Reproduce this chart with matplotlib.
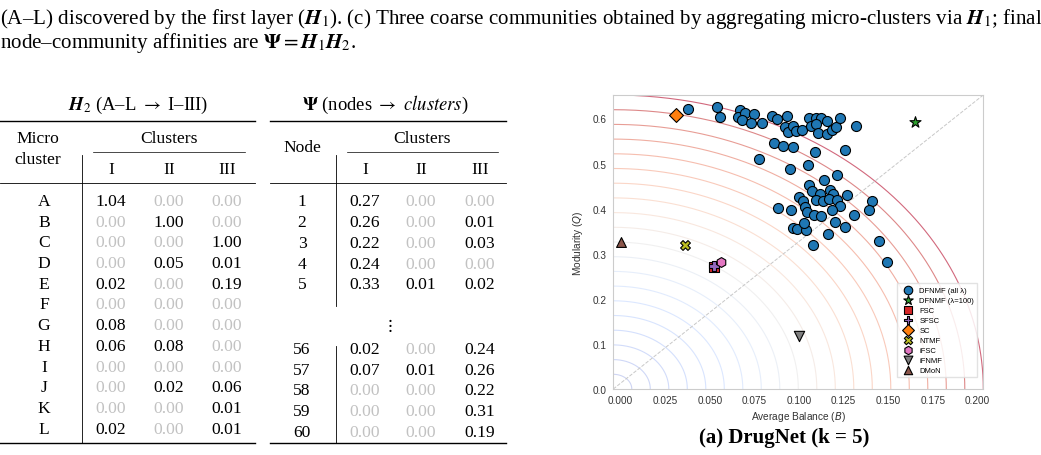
import numpy as np
import matplotlib
matplotlib.use("Agg")
import matplotlib.pyplot as plt
from matplotlib.lines import Line2D

plt.rcParams['mathtext.fontset'] = 'stix'
plt.rcParams['font.family'] = 'Liberation Serif'

### ---Table data
micro = list("ABCDEFGHIJKL")
h2_I   = [1.04, 0.00, 0.00, 0.00, 0.02, 0.00, 0.08, 0.06, 0.00, 0.00, 0.00, 0.02]
h2_II  = [0.00, 1.00, 0.00, 0.05, 0.00, 0.00, 0.00, 0.08, 0.00, 0.02, 0.00, 0.00]
h2_III = [0.00, 0.00, 1.00, 0.01, 0.19, 0.00, 0.00, 0.00, 0.00, 0.06, 0.01, 0.01]

nodes_top   = [1, 2, 3, 4, 5]
psi_top_I   = [0.27, 0.26, 0.22, 0.24, 0.33]
psi_top_II  = [0.00, 0.00, 0.00, 0.00, 0.01]
psi_top_III = [0.00, 0.01, 0.03, 0.00, 0.02]

nodes_bot   = [56, 57, 58, 59, 60]
psi_bot_I   = [0.02, 0.07, 0.00, 0.00, 0.00]
psi_bot_II  = [0.00, 0.01, 0.00, 0.00, 0.00]
psi_bot_III = [0.24, 0.26, 0.22, 0.31, 0.19]

### ---Scatter data (Average Balance B, Modularity Q)
dfnmf_B = [0.0379, 0.0538, 0.0557, 0.0669, 0.0656, 0.0697, 0.0682, 0.0747, 0.0732, 0.0790,
           0.0777, 0.0847, 0.0878, 0.0930, 0.0921, 0.0940, 0.0968, 0.0983, 0.1015, 0.1054,
           0.1095, 0.1121, 0.1155, 0.1065, 0.1095, 0.1108, 0.1155, 0.1183, 0.1207, 0.1229,
           0.1319, 0.0859, 0.0912, 0.0964, 0.1089, 0.1257, 0.0949, 0.1048, 0.1211, 0.1141,
           0.1054, 0.1071, 0.1117, 0.1173, 0.1192, 0.1001, 0.1024, 0.1098, 0.1136, 0.1169,
           0.1211, 0.1229, 0.1270, 0.1184, 0.1407, 0.1390, 0.0882, 0.0953, 0.1033, 0.1046,
           0.1083, 0.1121, 0.1201, 0.1308, 0.1259, 0.0968, 0.0990, 0.1037, 0.1027, 0.1164,
           0.1080, 0.1449, 0.1496]
dfnmf_Q = [0.620, 0.625, 0.604, 0.619, 0.604, 0.611, 0.597, 0.610, 0.590, 0.591,
           0.511, 0.605, 0.599, 0.605, 0.580, 0.569, 0.583, 0.573, 0.575, 0.602,
           0.602, 0.600, 0.594, 0.583, 0.588, 0.567, 0.565, 0.574, 0.582, 0.602,
           0.584, 0.546, 0.540, 0.536, 0.525, 0.530, 0.487, 0.497, 0.475, 0.464,
           0.452, 0.438, 0.432, 0.441, 0.432, 0.425, 0.416, 0.419, 0.416, 0.421,
           0.419, 0.406, 0.431, 0.397, 0.418, 0.397, 0.401, 0.398, 0.403, 0.392,
           0.386, 0.383, 0.371, 0.386, 0.360, 0.356, 0.355, 0.353, 0.368, 0.344,
           0.320, 0.328, 0.281]

others = ['DFNMF (λ=100)', 'FSC', 'SFSC', 'SC', 'NTMF', 'iFSC', 'iFNMF', 'DMoN']
others_B = [0.1649, 0.0525, 0.0523, 0.0310, 0.0361, 0.0561, 0.1001, 0.0000]
others_Q = [0.593, 0.270, 0.272, 0.608, 0.320, 0.281, 0.118, 0.326]
others_marker = ['*', 's', 'P', 'D', 'X', 'h', 'v', '^']
others_color = ['#2ca02c', '#d62728', '#9467bd', '#ff7f0e', '#bcbd22', '#e377c2', '#7f7f7f', '#8c564b']
others_size = [70, 45, 55, 50, 50, 50, 55, 50]

### ---Figure
W, H = 1041, 456
fig = plt.figure(figsize=(W / 100, H / 100), dpi=100)

def txt(x, y, s, **kw):
	kw.setdefault('va', 'baseline')
	kw.setdefault('ha', 'center')
	return fig.text(x / W, 1 - y / H, s, **kw)

def hrule(x0, x1, y, lw=0.6):
	fig.add_artist(Line2D([x0 / W, x1 / W], [1 - y / H] * 2, color='k', lw=lw))

def vrule(x, y0, y1, lw=0.6):
	fig.add_artist(Line2D([x / W] * 2, [1 - y0 / H, 1 - y1 / H], color='k', lw=lw))

GREY = '#c2c2c2'
def num(x, y, v, fs=12.6):
	txt(x, y, '%.2f' % v, fontsize=fs, color=GREY if v == 0 else 'k')

# caption lines
txt(0, 24, r"(A–L) discovered by the first layer ($\mathbfit{H}_1$). (c) Three coarse communities obtained by aggregating micro-clusters via $\mathbfit{H}_1$; final",
	ha='left', fontsize=15.1)
txt(0, 48, r"node–community affinities are $\mathbf{\Psi} = \mathbfit{H}_1\mathbfit{H}_2$.", ha='left', fontsize=15.1)

# left table: H2
FS = 12.6
txt(138, 110, r"$\mathbfit{H}_2$ (A–L $\rightarrow$ I–III)", fontsize=13.4)
hrule(0, 255, 121.7, 1.0)
txt(38, 143.3, "Micro", fontsize=FS)
txt(38, 164, "cluster", fontsize=FS)
txt(169, 143.3, "Clusters", fontsize=FS)
hrule(93, 245, 152.7, 0.5)
colx_L = [111, 169, 227]
for cx, lab in zip(colx_L, ['I', 'II', 'III']):
	txt(cx, 174.3, lab, fontsize=FS)
hrule(0, 255, 184.3, 0.6)
vrule(82.3, 156, 444)
for i, m in enumerate(micro):
	yb = 206 + i * 20.7
	txt(44, yb, m, fontsize=FS)
	for cx, col in zip(colx_L, [h2_I, h2_II, h2_III]):
		num(cx, yb, col[i], FS)
hrule(0, 255, 444, 1.0)

# right table: Psi
txt(385, 110, r"$\mathbf{\Psi}$ (nodes $\rightarrow$ $clusters$)", fontsize=13.4)
hrule(270, 506, 121.7, 1.0)
txt(302, 152.5, "Node", fontsize=FS)
txt(422, 143.3, "Clusters", fontsize=FS)
hrule(347, 498, 152.7, 0.5)
colx_R = [365, 421, 480]
for cx, lab in zip(colx_R, ['I', 'II', 'III']):
	txt(cx, 174.3, lab, fontsize=FS)
hrule(270, 506, 184.3, 0.6)
vrule(336, 156, 307)
vrule(336, 347, 444)
for i, n in enumerate(nodes_top):
	yb = 206.5 + i * 20.7
	txt(302, yb, str(n), fontsize=FS)
	for cx, col in zip(colx_R, [psi_top_I, psi_top_II, psi_top_III]):
		num(cx, yb, col[i], FS)
txt(389, 330, r"$\vdots$", fontsize=FS)
for i, n in enumerate(nodes_bot):
	yb = 354.3 + i * 20.6
	txt(302, yb, str(n), fontsize=FS)
	for cx, col in zip(colx_R, [psi_bot_I, psi_bot_II, psi_bot_III]):
		num(cx, yb, col[i], FS)
hrule(270, 506, 444, 1.0)

### ---Scatter panel
ax = fig.add_axes([613.3 / W, 1 - 390 / H, 370 / W, 294 / H])
ax.set_xlim(-0.0041, 0.2033)
ax.set_ylim(0, 0.652)

theta = np.linspace(0, np.pi / 2, 200)
cmap = plt.get_cmap('coolwarm')
for r in np.arange(0.05, 1.0001, 0.05):
	ax.plot(r * np.cos(theta), r * np.sin(theta), transform=ax.transAxes,
		color=cmap(r), alpha=0.25 + 0.35 * r, lw=0.8, zorder=0)
ax.plot([0, 1], [0, 1], transform=ax.transAxes, ls='--', color='#c8c8c8', lw=0.7, zorder=0)

ax.scatter(dfnmf_B, dfnmf_Q, s=52, marker='o', color='#1f77b4', edgecolor='k', lw=0.8,
	label='DFNMF (all λ)', zorder=3)
for lab, b, q, mk, c, s in zip(others, others_B, others_Q, others_marker, others_color, others_size):
	ax.scatter([b], [q], s=s, marker=mk, color=c, edgecolor='k', lw=0.8, label=lab, zorder=4)

sans = 'Liberation Sans'
ax.set_xticks(np.arange(0, 0.2001, 0.025))
ax.set_yticks(np.arange(0, 0.61, 0.1))
ax.set_xticklabels(['%.3f' % v for v in ax.get_xticks()], family=sans, fontsize=7.2, color='#333333')
ax.set_yticklabels(['%.1f' % v for v in ax.get_yticks()], family=sans, fontsize=7.2, color='#333333')
ax.tick_params(length=0, pad=4.5)
for sp in ax.spines.values():
	sp.set_color('#cccccc')
	sp.set_linewidth(0.8)
ax.set_xlabel(r"Average Balance ($B$)", family=sans, fontsize=7.3, math_fontfamily='dejavusans', labelpad=3, color='#333333')
ax.set_ylabel(r"Modularity ($Q$)", family=sans, fontsize=7.3, math_fontfamily='dejavusans', labelpad=6, color='#333333')

leg = ax.legend(loc='lower right', bbox_to_anchor=(0.983, 0.041), borderaxespad=0,
	prop={'family': sans, 'size': 5.5}, markerscale=0.85, labelspacing=0.35,
	handletextpad=0.5, borderpad=0.4, frameon=True, fancybox=False, edgecolor='#dddddd', framealpha=0.85)

txt(784, 443, "(a) DrugNet (k = 5)", fontsize=15, weight='bold')

fig.savefig("out.png", dpi=100)
